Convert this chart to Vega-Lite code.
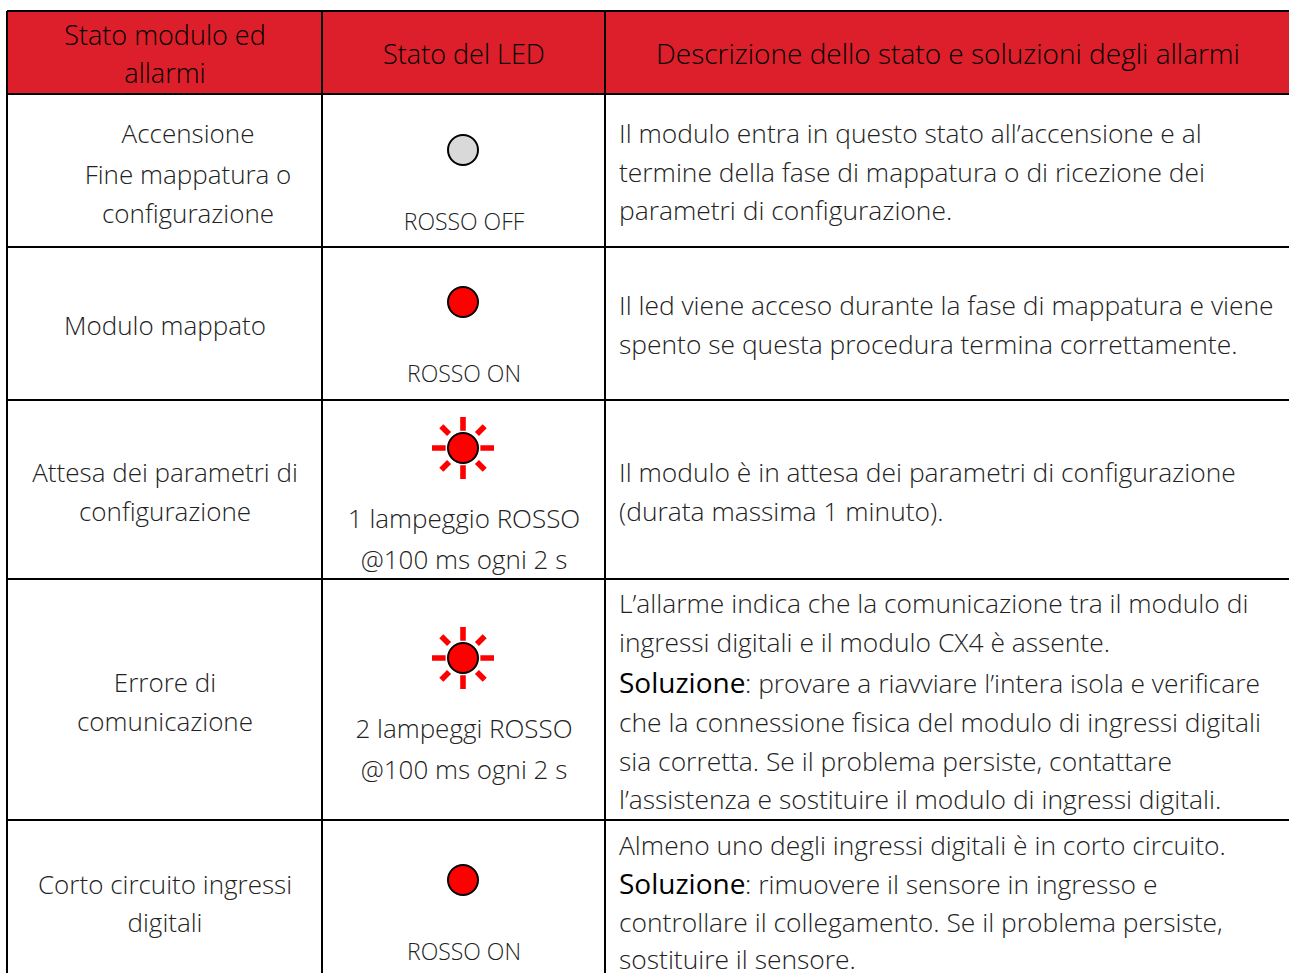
{"$schema":"https://vega.github.io/schema/vega-lite/v6.json","width":1289,"height":973,"padding":0,"autosize":{"type":"none"},"background":"white","config":{"view":{"stroke":null}},
"datasets":{
"header":[{"x":7,"x2":1289,"y":11,"y2":94}],
"lines":[{"x":7,"x2":1289,"y":11,"y2":11},{"x":7,"x2":1289,"y":94,"y2":94},{"x":7,"x2":1289,"y":247,"y2":247},{"x":7,"x2":1289,"y":400,"y2":400},{"x":7,"x2":1289,"y":579,"y2":579},{"x":7,"x2":1289,"y":820,"y2":820},{"x":7,"x2":7,"y":11,"y2":973},{"x":322,"x2":322,"y":11,"y2":973},{"x":605,"x2":605,"y":11,"y2":973}],
"leds":[{"x":463,"y":150,"state":"off"},{"x":463,"y":302,"state":"on"},{"x":463,"y":448,"state":"on"},{"x":463,"y":658,"state":"on"},{"x":463,"y":880,"state":"on"}],
"rays":[{"x":463,"y":448},{"x":463,"y":658}],
"head":[{"x":165,"y":45,"t":"Stato modulo ed"},{"x":165,"y":83,"t":"allarmi"},{"x":464,"y":64,"t":"Stato del LED"}],
"headwide":[{"x":948,"y":64,"t":"Descrizione dello stato e soluzioni degli allarmi"}],
"caps":[{"x":464,"y":230,"t":"ROSSO OFF"},{"x":464,"y":382,"t":"ROSSO ON"},{"x":464,"y":960,"t":"ROSSO ON"}],
"center":[{"x":188,"y":143,"t":"Accensione"},{"x":188,"y":184,"t":"Fine mappatura o"},{"x":188,"y":223,"t":"configurazione"},{"x":165,"y":335,"t":"Modulo mappato"},{"x":165,"y":482,"t":"Attesa dei parametri di"},{"x":165,"y":521,"t":"configurazione"},{"x":165,"y":692,"t":"Errore di"},{"x":165,"y":731,"t":"comunicazione"},{"x":165,"y":894,"t":"Corto circuito ingressi"},{"x":165,"y":932,"t":"digitali"},{"x":464,"y":528,"t":"1 lampeggio ROSSO"},{"x":464,"y":569,"t":"@100 ms ogni 2 s"},{"x":464,"y":738,"t":"2 lampeggi ROSSO"},{"x":464,"y":779,"t":"@100 ms ogni 2 s"}],
"left":[{"x":619,"y":143,"t":"Il modulo entra in questo stato all’accensione e al"},{"x":619,"y":182,"t":"termine della fase di mappatura o di ricezione dei"},{"x":619,"y":220,"t":"parametri di configurazione."},{"x":619,"y":315,"t":"Il led viene acceso durante la fase di mappatura e viene"},{"x":619,"y":354,"t":"spento se questa procedura termina correttamente."},{"x":619,"y":482,"t":"Il modulo è in attesa dei parametri di configurazione"},{"x":619,"y":521,"t":"(durata massima 1 minuto)."},{"x":619,"y":613,"t":"L’allarme indica che la comunicazione tra il modulo di"},{"x":619,"y":652,"t":"ingressi digitali e il modulo CX4 è assente."},{"x":745,"y":693,"t":": provare a riavviare l’intera isola e verificare"},{"x":619,"y":732,"t":"che la connessione fisica del modulo di ingressi digitali"},{"x":619,"y":771,"t":"sia corretta. Se il problema persiste, contattare"},{"x":619,"y":809,"t":"l’assistenza e sostituire il modulo di ingressi digitali."},{"x":619,"y":855,"t":"Almeno uno degli ingressi digitali è in corto circuito."},{"x":745,"y":894,"t":": rimuovere il sensore in ingresso e"},{"x":619,"y":932,"t":"controllare il collegamento. Se il problema persiste,"},{"x":619,"y":969,"t":"sostituire il sensore."}],
"bold":[{"x":619,"y":693,"t":"Soluzione"},{"x":619,"y":894,"t":"Soluzione"}]
},
"encoding":{"x":{"field":"x","type":"quantitative","scale":{"domain":[0,1289],"nice":false,"zero":false},"axis":null},"y":{"field":"y","type":"quantitative","scale":{"domain":[0,973],"reverse":true,"nice":false,"zero":false},"axis":null}},
"layer":[
{"data":{"name":"header"},"mark":{"type":"rect","color":"#DC1F2A"},"encoding":{"x2":{"field":"x2"},"y2":{"field":"y2"}}},
{"data":{"name":"lines"},"mark":{"type":"rule","color":"#000000","strokeWidth":2},"encoding":{"x2":{"field":"x2"},"y2":{"field":"y2"}}},
{"data":{"name":"rays"},"mark":{"type":"point","filled":true,"color":"#FF0000","opacity":1,"size":3844,"shape":"M-0.09,-1L0.09,-1L0.09,-0.56L-0.09,-0.56ZM-0.09,1L0.09,1L0.09,0.56L-0.09,0.56ZM-1,-0.09L-1,0.09L-0.56,0.09L-0.56,-0.09ZM1,-0.09L1,0.09L0.56,0.09L0.56,-0.09ZM0.515,-0.385L0.385,-0.515L0.635,-0.765L0.765,-0.635ZM-0.515,-0.385L-0.385,-0.515L-0.635,-0.765L-0.765,-0.635ZM0.515,0.385L0.385,0.515L0.635,0.765L0.765,0.635ZM-0.515,0.385L-0.385,0.515L-0.635,0.765L-0.765,0.635Z"}},
{"data":{"name":"leds"},"mark":{"type":"point","shape":"circle","filled":true,"opacity":1,"size":900,"stroke":"#000000","strokeWidth":2},"encoding":{"fill":{"field":"state","type":"nominal","scale":{"domain":["off","on"],"range":["#D9D9D9","#FF0000"]},"legend":null}}},
{"data":{"name":"head"},"mark":{"type":"text","align":"center","baseline":"alphabetic","font":"Open Sans","fontWeight":300,"fontSize":27,"color":"#000000"},"encoding":{"text":{"field":"t"}}},
{"data":{"name":"headwide"},"mark":{"type":"text","align":"center","baseline":"alphabetic","font":"Open Sans","fontWeight":300,"fontSize":28,"color":"#000000"},"encoding":{"text":{"field":"t"}}},
{"data":{"name":"caps"},"mark":{"type":"text","align":"center","baseline":"alphabetic","font":"Open Sans","fontWeight":300,"fontSize":23,"color":"#222222"},"encoding":{"text":{"field":"t"}}},
{"data":{"name":"center"},"mark":{"type":"text","align":"center","baseline":"alphabetic","font":"Open Sans","fontWeight":300,"fontSize":26,"color":"#222222"},"encoding":{"text":{"field":"t"}}},
{"data":{"name":"left"},"mark":{"type":"text","align":"left","baseline":"alphabetic","font":"Open Sans","fontWeight":300,"fontSize":26.4,"color":"#222222"},"encoding":{"text":{"field":"t"}}},
{"data":{"name":"bold"},"mark":{"type":"text","align":"left","baseline":"alphabetic","font":"Open Sans","fontWeight":400,"fontSize":28,"color":"#000000"},"encoding":{"text":{"field":"t"}}}
]}
